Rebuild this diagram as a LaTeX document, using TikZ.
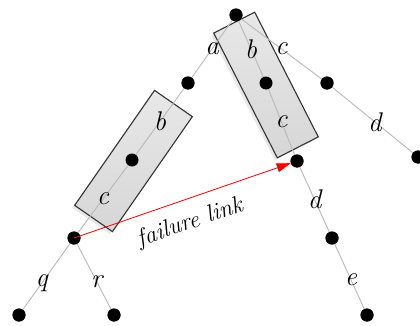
\documentclass[tikz,border=0pt]{standalone}
\usetikzlibrary{arrows.meta, shadows}

\begin{document}
\begin{tikzpicture}[
  x=1pt, y=1pt,
  trienode/.style={circle, fill=black, inner sep=0pt, minimum size=13pt},
  edge/.style={draw=black!28, line width=0.9pt},
  lbl/.style={font=\fontsize{27}{30}\selectfont\itshape, inner sep=1pt},
  hlbox/.style={draw=black!80, line width=1.1pt, top color=black!9, bottom color=black!16,
    minimum width=140pt, minimum height=46pt,
    drop shadow={opacity=0.18, shadow xshift=-2.5pt, shadow yshift=-2.5pt}},
  failarrow/.style={-{Triangle[length=14pt, width=9pt]}, draw=red, line width=0.8pt},
]
  \useasboundingbox (0,0) rectangle (420,325);

  % Trie nodes
  \node (r0) [trienode] at (236,310) {};
  \node (a1) [trienode] at (188,242) {};
  \node (a2) [trienode] at (132,165) {};
  \node (a3) [trienode] at (74,87) {};
  \node (q1) [trienode] at (19,10) {};
  \node (r1) [trienode] at (114,10) {};
  \node (b1) [trienode] at (266,242) {};
  \node (b2) [trienode] at (297,164) {};
  \node (b3) [trienode] at (332,87) {};
  \node (b4) [trienode] at (367,10) {};
  \node (c1) [trienode] at (327,242) {};
  \node (c2) [trienode] at (418,168) {};

  % Highlighted paths
  \node (boxa) [hlbox, rotate=55.2] at (133.5,164) {};
  \node (boxb) [hlbox, rotate=-63] at (266,240) {};

  % Edges with their letters
  \foreach \u/\v/\l/\p in {r0/a1/a/0.5, a1/a2/b/0.5, a2/a3/c/0.5, a3/q1/q/0.6, a3/r1/r/0.58,
                           r0/b1/b/0.5, b1/b2/c/0.5, b2/b3/d/0.5, b3/b4/e/0.55,
                           r0/c1/c/0.5, c1/c2/d/0.53} {
    \draw [edge] (\u) -- (\v) node [pos=\p, lbl] {\l};
  }

  % Redraw the dots on top
  \foreach \n in {r0, a1, a2, a3, q1, r1, b1, b2, b3, b4, c1, c2} {
    \fill (\n) circle (6.5pt);
  }

  % Failure link
  \draw [failarrow] (a3.center) -- (b2)
    node [pos=0.5, sloped, below=9pt, font=\fontsize{24}{27}\selectfont\itshape] {failure link};

\end{tikzpicture}
\end{document}
